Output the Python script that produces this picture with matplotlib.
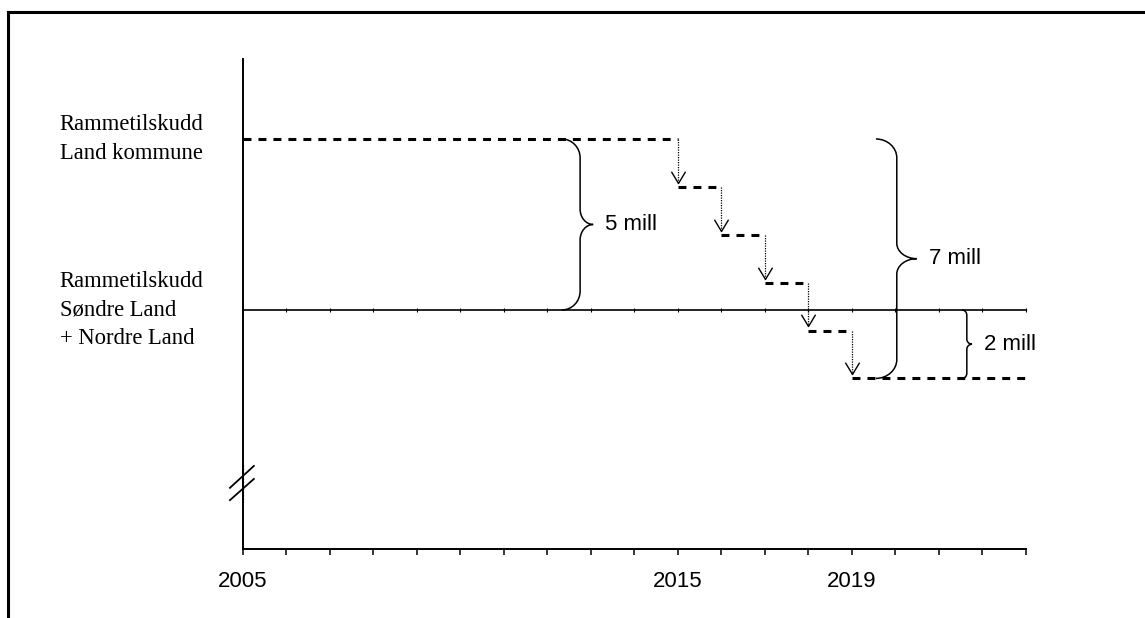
import matplotlib
matplotlib.use("Agg")
import matplotlib.pyplot as plt
from matplotlib.path import Path
from matplotlib.patches import PathPatch
from matplotlib.lines import Line2D

# data (mill kr, relative to Søndre Land + Nordre Land)
step_years = [2005, 2015, 2016, 2017, 2018, 2019, 2023]
step_levels = [5.0, 3.6, 2.2, 0.8, -0.6, -2.0]
base_level = 0.0
tick_years = list(range(2005, 2024))
labelled_years = [2005, 2015, 2019]
brace_spans = [(5.0, 0.0, "5 mill"), (5.0, -2.0, "7 mill"), (0.0, -2.0, "2 mill")]
left_labels = ["Rammetilskudd\nLand kommune", "Rammetilskudd\nSøndre Land\n+ Nordre Land"]
left_label_levels = [5.0, 0.0]

SERIF = "Liberation Serif"
SANS = "Liberation Sans"

fig = plt.figure(figsize=(11.45, 6.18), dpi=100)
ax = fig.add_axes([0, 0, 1, 1])
ax.set_xlim(1999.414, 2025.736)
ax.set_ylim(-9.006, 9.064)
ax.patch.set_visible(False)

# x axis as real spine
for s in ["top", "right", "left"]:
    ax.spines[s].set_visible(False)
ax.spines["bottom"].set_position(("data", -7.0))
ax.spines["bottom"].set_bounds(tick_years[0], tick_years[-1])
ax.spines["bottom"].set_linewidth(1.4)
ax.set_xticks(tick_years)
ax.set_xticklabels([str(y) if y in labelled_years else "" for y in tick_years],
                   fontfamily=SANS, fontsize=16)
ax.tick_params(axis="x", direction="out", length=4.5, width=1.1, pad=11)
ax.set_yticks([])

# y axis with break
ax.plot([2005, 2005], [-7.0, -4.53], color="black", lw=1.4)
ax.plot([2005, 2005], [-5.61, 7.34], color="black", lw=1.4)
ax.plot([2005, 2005], [-4.53, -5.61], color="black", lw=0.9, ls=":")
ax.plot([2004.70, 2005.25], [-5.20, -4.56], color="black", lw=1.3)
ax.plot([2004.70, 2005.25], [-5.56, -4.94], color="black", lw=1.3)

# baseline
ax.plot([tick_years[0], tick_years[-1]], [base_level, base_level], color="black", lw=1.2)
ax.plot(tick_years[1:], [base_level] * (len(tick_years) - 1), ls="none",
        marker="|", ms=3, mew=0.8, color="black")

# dashed steps
for i, lev in enumerate(step_levels):
    ax.plot([step_years[i], step_years[i + 1]], [lev, lev], color="black",
            lw=2.2, ls=(0, (2.6, 2.3)), solid_capstyle="butt", dash_capstyle="butt")

# dotted arrows between steps
chevron = Path([(-0.6, 1.0), (0.0, 0.0), (0.6, 1.0)])
for i in range(1, len(step_levels)):
    x = step_years[i]
    top, bot = step_levels[i - 1], step_levels[i] + 0.12
    ax.plot([x, x], [top, bot], color="black", lw=0.9, ls=(0, (1, 1)))
    ax.plot([x], [bot], marker=chevron, ms=17, mew=1.0, mfc="none", mec="black", ls="none")


def brace(x_end, x_mid, x_tip, y_top, y_bot, r, r_tip):
    ym = (y_top + y_bot) / 2
    k = 0.55
    verts = [
        (x_end, y_top),
        (x_end + k * (x_mid - x_end), y_top), (x_mid, y_top - (1 - k) * r), (x_mid, y_top - r),
        (x_mid, ym + r_tip),
        (x_mid, ym + (1 - k) * r_tip), (x_tip - k * (x_tip - x_mid), ym), (x_tip, ym),
        (x_tip - k * (x_tip - x_mid), ym), (x_mid, ym - (1 - k) * r_tip), (x_mid, ym - r_tip),
        (x_mid, y_bot + r),
        (x_mid, y_bot + (1 - k) * r), (x_end + k * (x_mid - x_end), y_bot), (x_end, y_bot),
    ]
    codes = ([Path.MOVETO] + [Path.CURVE4] * 3 + [Path.LINETO] + [Path.CURVE4] * 6
             + [Path.LINETO] + [Path.CURVE4] * 3)
    ax.add_patch(PathPatch(Path(verts, codes), fc="none", ec="black", lw=1.1))


brace_x = [(2012.33, 2012.75, 2013.05), (2019.55, 2020.03, 2020.49), (2021.53, 2021.64, 2021.76)]
brace_r = [(0.55, 0.45), (0.55, 0.45), (0.15, 0.15)]
for (top, bot, label), (xe, xm, xt), (r, rt) in zip(brace_spans, brace_x, brace_r):
    brace(xe, xm, xt, top, bot, r, rt)
    ax.text(xt + 0.27, (top + bot) / 2, label, fontfamily=SANS, fontsize=16,
            ha="left", va="center")

# left labels
for txt, lev in zip(left_labels, left_label_levels):
    ax.text(2000.79, lev, txt, fontfamily=SERIF, fontsize=16.3, ha="left", va="center",
            linespacing=1.45)

# frame (top and left only)
fx, fy = 8 / 1145, 1 - 12 / 618
fig.add_artist(Line2D([fx, 1.0], [fy, fy], transform=fig.transFigure, color="black", lw=2.2))
fig.add_artist(Line2D([fx, fx], [0.0, fy], transform=fig.transFigure, color="black", lw=2.2))

fig.savefig("out.png", dpi=100)
